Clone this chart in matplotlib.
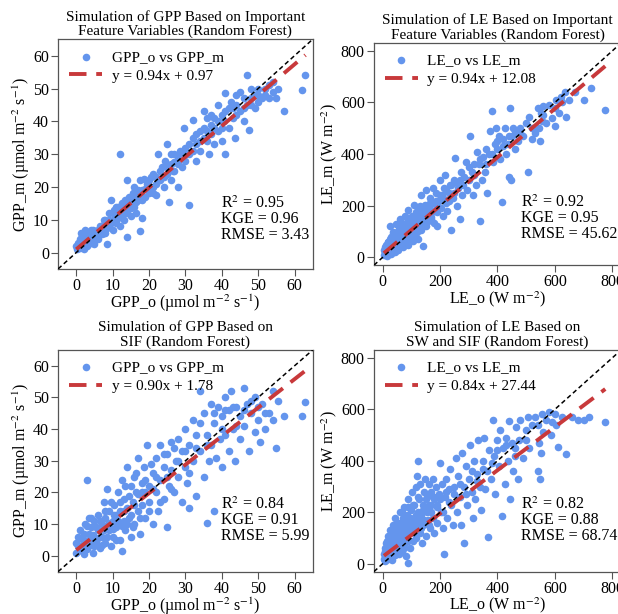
import numpy as np
import matplotlib
matplotlib.use('Agg')
import matplotlib.pyplot as plt

plt.rcParams['font.family'] = ['Liberation Serif', 'DejaVu Serif']
plt.rcParams['mathtext.fontset'] = 'stix'

# Panel 1: GPP, important feature variables (observed, modelled)
gpp_imp = [
    (0, 2), (0.3, 1), (0.5, 3), (1, 1.5), (1, 4), (1.2, 6), (1.5, 2.5), (2, 1), (2, 5), (2.3, 3),
    (2.5, 7), (3, 2), (3, 4.5), (3.5, 6), (4, 3), (4, 7), (4.5, 5), (5, 2.5), (5, 6), (5.5, 4),
    (6, 7), (6, 4), (7, 8), (7, 5.5), (7.5, 10), (8, 6), (8, 9), (8.5, 2.5), (9, 12), (9, 8),
    (9.5, 16), (10, 10), (10, 7), (10.5, 13), (11, 9), (11, 11.5), (11.5, 14), (12, 30), (12, 12), (12, 8),
    (12.5, 15), (13, 10), (13, 13), (13.5, 16), (14, 4.7), (14, 12), (14, 22), (14.5, 14.5), (15, 11), (15, 16),
    (15.5, 18), (16, 14), (16, 20), (16.5, 12), (17, 16), (17.5, 6.7), (17.5, 22), (18, 19), (18, 10.5), (19, 17),
    (19.5, 21), (20, 22), (20, 18), (21, 24), (21, 20), (22, 17.5), (22, 23), (22.5, 30), (23, 22), (23.5, 26),
    (24, 20), (24.5, 28), (25, 24), (25, 33), (25.5, 15.5), (26, 27), (26, 22), (27, 30), (27, 25), (28, 29),
    (28, 20), (28.5, 31), (29, 26), (29.5, 38), (30, 32), (30, 28), (31, 14.5), (31, 30), (32, 35), (32, 40.5),
    (33, 33), (33, 28), (34, 37), (34, 31), (35, 38), (35, 43), (36, 34), (36, 41), (36.5, 30), (37, 36),
    (37, 42), (38, 38), (38, 33), (39, 45), (39, 37), (40, 42), (40, 34), (40.5, 40), (41, 48.5), (41, 30),
    (42, 44), (42, 38), (42.5, 46), (43, 41), (43.5, 35), (44, 48), (44, 45), (45, 43), (45, 49), (46, 40),
    (46, 47), (47, 54), (47, 45), (47.5, 37.5), (48, 50), (48, 47), (49, 44), (49.5, 48), (50, 50), (50, 46),
    (51, 47), (52, 48), (53, 51), (53, 47), (54, 52), (54, 49), (55, 47), (55.5, 50), (57, 43), (62, 49.5),
    (63, 54),
    (0.5, 1.5), (1, 3), (1.5, 5), (2, 2), (2.5, 4), (3, 6), (3.5, 3), (4, 5), (4.5, 7), (5, 4),
    (5.5, 6.5), (6, 5.5), (6.5, 8), (7, 7), (7.5, 6), (8, 10), (8.5, 7.5), (9, 10), (9.5, 9), (10, 12),
    (10.5, 9.5), (11, 14), (11.5, 10.5), (12, 13.5), (12.5, 11), (13, 15), (13.5, 12.5), (14, 14), (14.5, 17), (15, 13.5),
    (15.5, 15), (16, 17), (16.5, 15.5), (17, 19), (17.5, 17.5), (18, 16), (18.5, 22.5), (19, 19.5), (20, 20), (20.5, 23),
    (21, 18), (22, 21), (23, 25), (24, 23), (25, 26), (26, 30), (26.5, 25), (27, 27.5), (28, 27), (29, 30),
    (30, 30), (31, 33), (32, 31), (33, 36), (34, 34), (35, 35), (36, 37), (37, 39), (38, 41), (39, 40),
    (40, 38), (41, 43), (43, 44), (44, 42), (46, 44), (48, 45), (50, 48), (52, 50),
]

# Panel 2: LE, important feature variables
le_imp = [
    (5, 10), (8, 30), (10, 20), (12, 50), (15, 5), (18, 35), (20, 60), (22, 25), (25, 120), (28, 45),
    (30, 15), (30, 80), (35, 40), (38, 100), (40, 60), (42, 20), (45, 75), (48, 130), (50, 50), (52, 90),
    (55, 30), (58, 110), (60, 70), (62, 150), (65, 55), (68, 95), (70, 40), (72, 130), (75, 80), (78, 160),
    (80, 60), (82, 110), (85, 90), (88, 140), (90, 50), (90, 185), (95, 75), (98, 120), (100, 100), (102, 160),
    (105, 65), (108, 140), (110, 205), (112, 90), (115, 120), (118, 175), (120, 100), (122, 145), (125, 70), (128, 190),
    (130, 115), (132, 160), (135, 240), (138, 130), (140, 45), (140, 180), (145, 150), (148, 205), (150, 120), (152, 260),
    (155, 170), (158, 140), (160, 200), (165, 230), (168, 155), (170, 185), (175, 270), (178, 135), (180, 210), (185, 250),
    (188, 175), (190, 120), (195, 220), (200, 300), (205, 190), (208, 240), (210, 160), (215, 270), (218, 320), (220, 210),
    (225, 180), (230, 250), (235, 280), (240, 105), (245, 230), (250, 300), (252, 385), (258, 200), (262, 270), (268, 150),
    (272, 330), (278, 240), (285, 310), (290, 370), (295, 260), (300, 300), (305, 470), (310, 330), (315, 240), (320, 360),
    (325, 280), (330, 410), (335, 360), (340, 140), (345, 300), (350, 390), (355, 330), (360, 420), (365, 250), (370, 400),
    (375, 490), (380, 565), (385, 370), (390, 440), (395, 500), (400, 420), (405, 470), (410, 380), (415, 215), (420, 460),
    (425, 500), (430, 400), (435, 440), (440, 310), (445, 580), (448, 300), (450, 470), (455, 500), (460, 420), (465, 480),
    (470, 450), (480, 500), (490, 470), (500, 520), (505, 330), (510, 545), (520, 460), (530, 480), (540, 580), (545, 500),
    (548, 450), (550, 560), (555, 530), (560, 585), (570, 520), (580, 590), (590, 540), (600, 510), (605, 610), (615, 560),
    (625, 600), (635, 640), (640, 545), (650, 610), (670, 640), (700, 610), (725, 655), (775, 570),
    (5, 30), (10, 40), (15, 25), (18, 60), (20, 40), (25, 70), (28, 20), (32, 55), (35, 90), (40, 35),
    (42, 80), (48, 60), (50, 100), (55, 75), (58, 45), (60, 110), (65, 85), (70, 120), (72, 65), (78, 100),
    (80, 135), (85, 70), (90, 110), (92, 150), (100, 130), (105, 90), (110, 160), (115, 100), (120, 170), (125, 125),
    (130, 200), (135, 105), (140, 150), (150, 185), (155, 140), (160, 170), (165, 210), (170, 150), (180, 180), (185, 220),
    (190, 200), (200, 240), (210, 230), (220, 260), (230, 220), (240, 280), (250, 250), (260, 290), (270, 300), (280, 280),
    (300, 350), (320, 320), (340, 380), (360, 360), (380, 400), (400, 450), (420, 430), (440, 470), (460, 490), (480, 480),
    (520, 500), (560, 550), (600, 580), (620, 620),
]

# Panel 3: GPP, SIF only
gpp_sif = [
    (0, 1), (0, 4), (0.5, 6), (1, 2.5), (1, 8), (1.5, 3.5), (2, 0.5), (2, 5), (2.5, 10), (3, 24),
    (3, 2), (3.5, 7), (3.5, 12), (4, 3.5), (4, 9), (4.5, 1), (5, 6), (5, 11), (5.5, 4), (6, 8),
    (6, 13), (6.5, 2.5), (7, 10), (7, 6), (7.5, 17), (8, 4), (8, 12), (8.5, 21), (9, 8), (9, 14),
    (9.5, 3), (10, 11), (10, 6), (10.5, 16), (11, 13), (11, 9), (11.5, 20), (12, 5), (12, 14), (12.5, 1.5),
    (12.5, 24), (13, 11), (13, 18), (13.5, 8), (14, 15), (14, 28), (14.5, 12), (15, 22), (15, 6), (15.5, 17),
    (16, 25), (16, 10), (16.5, 20), (17, 14), (17, 31), (17.5, 7), (18, 23), (18, 16), (18.5, 28), (19, 20),
    (19, 12), (19.5, 35), (20, 22), (20, 17), (21, 26), (21, 10), (22, 20), (22, 31), (22.5, 14), (23, 24),
    (23, 35), (24, 28), (24, 18), (25, 9), (25, 32), (25.5, 22), (26, 27), (26, 36), (27, 20), (27.5, 30),
    (28, 25), (28, 37), (29, 33), (29, 17), (30, 28), (30, 40), (30.5, 23), (31, 15), (31, 35), (32, 30),
    (32, 43), (33, 19), (33, 38), (34, 52), (34, 33), (35, 25), (35, 45), (36, 10.5), (36, 38), (36.5, 30),
    (37, 48), (37, 35), (38, 42), (38, 14), (38.5, 31), (39, 47), (39.5, 37), (40, 28), (40, 44), (41, 50),
    (41, 38), (42, 33), (42, 46), (42.5, 52), (43, 40), (43.5, 30), (44, 47), (45, 37), (45, 44), (46, 53),
    (46, 41), (47, 48), (47.5, 33), (48, 45), (49, 39), (49, 50), (50, 43), (50.5, 36), (51, 48), (52, 40),
    (53, 45), (54, 52), (54, 43), (55, 34), (55.5, 49), (57, 44), (62, 44), (63, 48.5),
    (0.5, 3), (1, 5.5), (1.5, 1.5), (2, 7), (2.5, 3), (3, 9.5), (3.5, 5), (4, 12), (4.5, 6.5), (5, 3),
    (5.5, 9), (6, 5.5), (6.5, 11), (7, 3.5), (7.5, 8), (8, 14), (8.5, 6), (9, 10.5), (9.5, 17), (10, 8.5),
    (10.5, 13), (11, 5), (11.5, 11), (12, 17), (12.5, 9.5), (13, 14), (13.5, 22), (14, 10), (14.5, 19), (15, 13),
    (15.5, 9), (16, 16), (16.5, 26), (17, 19.5), (17.5, 12), (18, 20), (19, 24), (20, 14), (20.5, 29), (21, 21),
    (22, 25), (23, 17), (24, 32), (25, 25), (26, 21), (27, 34), (28, 30), (30, 33), (31, 26), (33, 34),
    (34, 42), (36, 35), (38, 45), (40, 40), (41, 46), (43, 47), (44, 41), (46, 46), (48, 49), (50, 47),
    (52, 45),
]

# Panel 4: LE, SW and SIF
le_sif = [
    (5, 20), (8, 50), (10, 10), (12, 80), (15, 40), (18, 110), (20, 25), (22, 60), (25, 130), (28, 45),
    (30, 90), (32, 15), (35, 150), (38, 70), (40, 110), (42, 35), (45, 180), (48, 90), (50, 130), (52, 55),
    (55, 160), (58, 100), (60, 200), (62, 75), (65, 140), (68, 45), (70, 180), (72, 110), (75, 220), (78, 80),
    (80, 150), (82, 30), (85, 190), (88, 120), (90, 5), (90, 250), (92, 160), (95, 60), (98, 210), (100, 130),
    (102, 280), (105, 90), (108, 180), (110, 230), (112, 140), (115, 300), (118, 100), (120, 340), (122, 200), (125, 400),
    (125, 160), (128, 250), (130, 120), (132, 310), (135, 190), (138, 80), (140, 230), (142, 150), (145, 280), (148, 330),
    (150, 210), (152, 110), (155, 260), (158, 170), (160, 310), (162, 230), (165, 140), (168, 280), (170, 200), (175, 330),
    (178, 250), (180, 120), (185, 300), (188, 220), (190, 160), (195, 270), (200, 390), (205, 200), (208, 310), (212, 140),
    (215, 40), (218, 260), (220, 330), (225, 180), (230, 290), (235, 370), (240, 230), (245, 150), (250, 300), (255, 410),
    (258, 200), (262, 340), (268, 260), (272, 150), (278, 430), (282, 300), (285, 80), (290, 380), (295, 230), (300, 330),
    (305, 460), (310, 280), (315, 180), (318, 400), (322, 250), (328, 350), (332, 480), (338, 300), (342, 210), (348, 400),
    (352, 490), (358, 290), (362, 360), (368, 105), (372, 440), (378, 330), (385, 560), (388, 420), (392, 270), (398, 480),
    (405, 380), (410, 520), (415, 185), (420, 450), (425, 310), (430, 490), (435, 400), (440, 555), (445, 250), (450, 470),
    (455, 360), (460, 420), (465, 530), (470, 330), (475, 480), (480, 560), (490, 410), (500, 520), (505, 570), (510, 450),
    (520, 540), (530, 570), (540, 360), (545, 470), (548, 330), (550, 430), (555, 580), (560, 510), (570, 560), (580, 590),
    (585, 500), (590, 550), (600, 580), (605, 540), (610, 455), (625, 570), (640, 425), (660, 570), (680, 560), (700, 560),
    (720, 570), (775, 550),
    (5, 40), (8, 15), (10, 60), (15, 90), (18, 20), (20, 70), (25, 50), (28, 100), (30, 30), (35, 80),
    (38, 120), (40, 55), (45, 100), (48, 150), (50, 70), (55, 120), (58, 40), (60, 160), (65, 100), (68, 200),
    (70, 130), (75, 60), (78, 170), (80, 110), (85, 140), (88, 220), (90, 90), (95, 180), (100, 160), (105, 230),
    (110, 120), (115, 190), (120, 150), (125, 260), (130, 180), (135, 140), (140, 210), (145, 170), (150, 250), (155, 200),
    (160, 150), (165, 270), (170, 230), (175, 180), (180, 260), (190, 230), (200, 250), (210, 200), (220, 280), (230, 240),
    (250, 270), (270, 310), (290, 270), (310, 360), (330, 320), (350, 370), (380, 390), (400, 440), (430, 460), (460, 450),
    (500, 480), (540, 540),
]

titles = ['Simulation of GPP Based on Important\nFeature Variables (Random Forest)',
          'Simulation of LE Based on Important\nFeature Variables (Random Forest)',
          'Simulation of GPP Based on\nSIF (Random Forest)',
          'Simulation of LE Based on\nSW and SIF (Random Forest)']
slopes = [0.94, 0.94, 0.90, 0.84]
intercepts = [0.97, 12.08, 1.78, 27.44]
r2 = [0.95, 0.92, 0.84, 0.82]
kge = [0.96, 0.95, 0.91, 0.88]
rmse = [3.43, 45.62, 5.99, 68.74]

gpp_x = 'GPP_o (µmol m$^{-2}$ s$^{-1}$)'
gpp_y = 'GPP_m (µmol m$^{-2}$ s$^{-1}$)'
le_x = 'LE_o (W m$^{-2}$)'
le_y = 'LE_m (W m$^{-2}$)'

panels = [
    (gpp_imp, 'GPP', gpp_x, gpp_y, (-5, 65), [0, 10, 20, 30, 40, 50, 60]),
    (le_imp, 'LE', le_x, le_y, (-30, 830), [0, 200, 400, 600, 800]),
    (gpp_sif, 'GPP', gpp_x, gpp_y, (-5, 65), [0, 10, 20, 30, 40, 50, 60]),
    (le_sif, 'LE', le_x, le_y, (-30, 830), [0, 200, 400, 600, 800]),
]

# axes boxes in figure fraction [left, bottom, width, height]
boxes = [
    [0.094, 0.562, 0.412, 0.374],
    [0.605, 0.568, 0.400, 0.362],
    [0.094, 0.069, 0.412, 0.361],
    [0.605, 0.069, 0.400, 0.361],
]
stat_x = [0.64, 0.595, 0.64, 0.595]
stat_y = [0.32, 0.32, 0.34, 0.34]

fig = plt.figure(figsize=(6.18, 6.14), dpi=100)

for i, (pts, var, xl, yl, lim, ticks) in enumerate(panels):
    ax = fig.add_axes(boxes[i])
    obs = np.array([p[0] for p in pts])
    mod = np.array([p[1] for p in pts])

    ax.scatter(obs, mod, s=30, color='#6495ED', linewidths=0,
               label=f'{var}_o vs {var}_m', zorder=2)
    xfit = np.array([obs.min(), obs.max()])
    ax.plot(xfit, slopes[i] * xfit + intercepts[i], color='#C8393B', lw=2.8,
            dashes=(4.5, 2.5), label=f'y = {slopes[i]:.2f}x + {intercepts[i]:.2f}', zorder=3)
    ax.plot(lim, lim, color='black', lw=1.1, dashes=(3, 2), zorder=4)

    ax.set_xlim(lim)
    ax.set_ylim(lim)
    ax.set_xticks(ticks)
    ax.set_yticks(ticks)
    ax.tick_params(direction='out', length=5, width=0.8, color='#555555', labelsize=11.5, pad=1.5)
    for sp in ax.spines.values():
        sp.set_color('#555555')
        sp.set_linewidth(0.9)

    ax.set_title(titles[i], fontsize=11, linespacing=1.1, pad=3)
    ax.set_xlabel(xl, fontsize=11.5, labelpad=-1)
    ax.set_ylabel(yl, fontsize=11.5, labelpad=1)

    ax.legend(loc='upper left', frameon=False, fontsize=11, handlelength=2.2,
              borderaxespad=0.3, labelspacing=0.35, handletextpad=0.6)
    ax.text(stat_x[i], stat_y[i], f'R$^2$ = {r2[i]:.2f}\nKGE = {kge[i]:.2f}\nRMSE = {rmse[i]:.2f}',
            transform=ax.transAxes, fontsize=11.5, va='top', ha='left', linespacing=0.95)

plt.savefig('out.png', dpi=100)
